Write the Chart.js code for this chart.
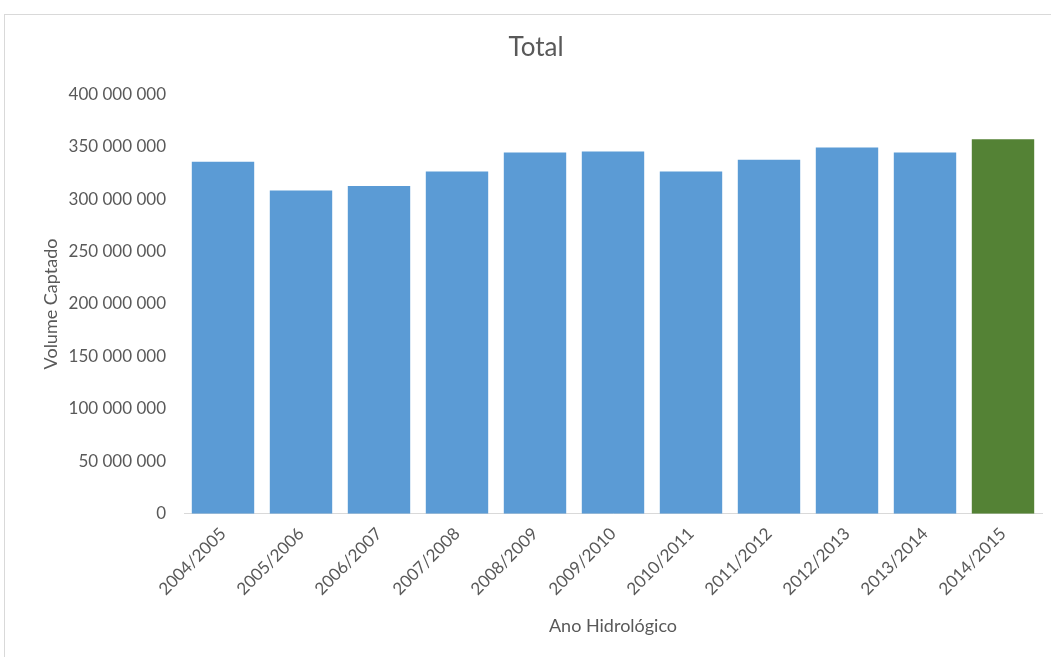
<!DOCTYPE html>
<html>
<head>
<meta charset="utf-8">
<script src="https://cdn.jsdelivr.net/npm/chart.js@4.4.0/dist/chart.umd.min.js"></script>
<style>
    html, body { margin: 0; padding: 0; background: #fff; overflow: hidden; }
    #frame {
        position: absolute; left: 4px; top: 14px;
        width: 1100px; height: 700px;
        border: 1px solid #d9d9d9;
    }
    #wrap { position: absolute; left: 0; top: 0; width: 1051px; height: 657px; }
</style>
</head>
<body>
<div id="frame"></div>
<div id="wrap"><canvas id="myChart" width="1051" height="657"></canvas></div>
<script>
const anos = ['2004/2005', '2005/2006', '2006/2007', '2007/2008', '2008/2009', '2009/2010',
    '2010/2011', '2011/2012', '2012/2013', '2013/2014', '2014/2015'];
const volumes = [335500000, 308300000, 312400000, 326400000, 344500000, 345400000,
    326400000, 337400000, 349200000, 344500000, 357100000];
const cores = ['#5b9bd5', '#5b9bd5', '#5b9bd5', '#5b9bd5', '#5b9bd5', '#5b9bd5',
    '#5b9bd5', '#5b9bd5', '#5b9bd5', '#5b9bd5', '#548235'];

window.onload = function () {
    const txt = '#595959';
    const fonte = 'Lato, Carlito, Calibri, sans-serif';

    // separador de milhares com espaço
    function fmt(v) {
        return String(v).replace(/\B(?=(\d{3})+(?!\d))/g, ' ');
    }

    const data = {
        labels: anos,
        datasets: [{
            label: 'Total',
            data: volumes,
            backgroundColor: cores,
            borderWidth: 0,
            categoryPercentage: 0.8,
            barPercentage: 1.0
        }]
    };
    const config = {
        type: 'bar',
        data: data,
        options: {
            responsive: false,
            animation: false,
            layout: { padding: { left: 30, right: 9, top: 24, bottom: 20 } },
            plugins: {
                legend: { display: false },
                tooltip: { enabled: false },
                title: {
                    display: true,
                    text: 'Total',
                    color: txt,
                    font: { family: fonte, size: 26, weight: 'normal' },
                    padding: { top: 8, bottom: 31 }
                }
            },
            scales: {
                x: {
                    grid: { display: false, drawTicks: false },
                    border: { display: true, color: '#d9d9d9', width: 1 },
                    ticks: {
                        color: txt,
                        font: { family: fonte, size: 17 },
                        minRotation: 45,
                        maxRotation: 45,
                        padding: 10
                    },
                    title: {
                        display: true,
                        text: 'Ano Hidrológico',
                        color: txt,
                        font: { family: fonte, size: 18 },
                        padding: { top: 6, bottom: 0 }
                    }
                },
                y: {
                    min: 0,
                    max: 400000000,
                    grid: { display: false, drawTicks: false },
                    border: { display: false },
                    afterFit: function (s) { s.width = 154; },
                    ticks: {
                        stepSize: 50000000,
                        color: txt,
                        font: { family: fonte, size: 17 },
                        padding: 18,
                        callback: function (v) { return fmt(v); }
                    },
                    title: {
                        display: true,
                        text: 'Volume Captado',
                        color: txt,
                        font: { family: fonte, size: 18 },
                        padding: { top: 10, bottom: 0 }
                    }
                }
            }
        }
    };
    const myChart = new Chart(document.getElementById('myChart'), config);
};
</script>
</body>
</html>
